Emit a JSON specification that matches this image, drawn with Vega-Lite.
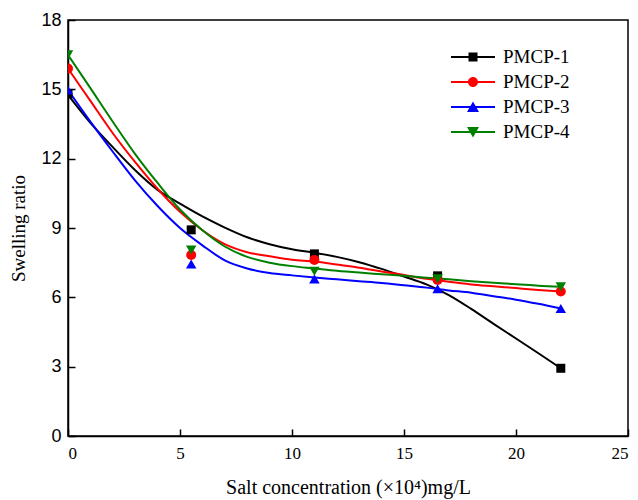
{
  "$schema": "https://vega.github.io/schema/vega-lite/v6.json",
  "autosize": "none",
  "width": 560,
  "height": 416,
  "padding": {"left": 68, "top": 20, "right": 10, "bottom": 64},
  "background": "white",
  "config": {
    "view": {"stroke": "black", "strokeWidth": 1.5},
    "axis": {"grid": false, "domainColor": "black", "domainWidth": 1.5, "tickColor": "black", "tickWidth": 1.5, "tickSize": -7, "labelColor": "black", "titleColor": "black", "titleFont": "Liberation Serif", "titleFontWeight": "normal"},
    "legend": {"orient": "none", "legendX": 395, "legendY": 27, "padding": 0, "symbolSize": 400, "symbolOpacity": 1, "symbolStrokeWidth": 0, "labelFont": "Liberation Serif", "labelFontSize": 19, "labelColor": "black", "labelOffset": 20, "rowPadding": 5}
  },
  "datasets": {
    "curves": [
      {"series": "PMCP-1", "x": 0, "y": 14.76}, {"series": "PMCP-1", "x": 1, "y": 13.55}, {"series": "PMCP-1", "x": 2, "y": 12.5}, {"series": "PMCP-1", "x": 3, "y": 11.5}, {"series": "PMCP-1", "x": 4, "y": 10.65}, {"series": "PMCP-1", "x": 5, "y": 10.05}, {"series": "PMCP-1", "x": 6, "y": 9.5}, {"series": "PMCP-1", "x": 7, "y": 9.02}, {"series": "PMCP-1", "x": 8, "y": 8.6}, {"series": "PMCP-1", "x": 9, "y": 8.3}, {"series": "PMCP-1", "x": 10, "y": 8.08}, {"series": "PMCP-1", "x": 11, "y": 7.93}, {"series": "PMCP-1", "x": 12, "y": 7.75}, {"series": "PMCP-1", "x": 13, "y": 7.52}, {"series": "PMCP-1", "x": 14, "y": 7.23}, {"series": "PMCP-1", "x": 15, "y": 6.9}, {"series": "PMCP-1", "x": 16, "y": 6.56}, {"series": "PMCP-1", "x": 17, "y": 6.1}, {"series": "PMCP-1", "x": 18, "y": 5.5}, {"series": "PMCP-1", "x": 19, "y": 4.85}, {"series": "PMCP-1", "x": 20, "y": 4.22}, {"series": "PMCP-1", "x": 21, "y": 3.58}, {"series": "PMCP-1", "x": 22, "y": 2.93},
      {"series": "PMCP-2", "x": 0, "y": 15.9}, {"series": "PMCP-2", "x": 1, "y": 14.5}, {"series": "PMCP-2", "x": 2, "y": 13.1}, {"series": "PMCP-2", "x": 3, "y": 11.85}, {"series": "PMCP-2", "x": 4, "y": 10.7}, {"series": "PMCP-2", "x": 5, "y": 9.7}, {"series": "PMCP-2", "x": 6, "y": 8.9}, {"series": "PMCP-2", "x": 7, "y": 8.3}, {"series": "PMCP-2", "x": 8, "y": 7.95}, {"series": "PMCP-2", "x": 9, "y": 7.78}, {"series": "PMCP-2", "x": 10, "y": 7.63}, {"series": "PMCP-2", "x": 11, "y": 7.55}, {"series": "PMCP-2", "x": 12, "y": 7.42}, {"series": "PMCP-2", "x": 13, "y": 7.28}, {"series": "PMCP-2", "x": 14, "y": 7.12}, {"series": "PMCP-2", "x": 15, "y": 6.97}, {"series": "PMCP-2", "x": 16, "y": 6.8}, {"series": "PMCP-2", "x": 17, "y": 6.67}, {"series": "PMCP-2", "x": 18, "y": 6.56}, {"series": "PMCP-2", "x": 19, "y": 6.48}, {"series": "PMCP-2", "x": 20, "y": 6.4}, {"series": "PMCP-2", "x": 21, "y": 6.32}, {"series": "PMCP-2", "x": 22, "y": 6.25},
      {"series": "PMCP-3", "x": 0, "y": 14.97}, {"series": "PMCP-3", "x": 1, "y": 13.6}, {"series": "PMCP-3", "x": 2, "y": 12.3}, {"series": "PMCP-3", "x": 3, "y": 11.05}, {"series": "PMCP-3", "x": 4, "y": 9.95}, {"series": "PMCP-3", "x": 5, "y": 9.0}, {"series": "PMCP-3", "x": 6, "y": 8.25}, {"series": "PMCP-3", "x": 7, "y": 7.6}, {"series": "PMCP-3", "x": 8, "y": 7.25}, {"series": "PMCP-3", "x": 9, "y": 7.05}, {"series": "PMCP-3", "x": 10, "y": 6.95}, {"series": "PMCP-3", "x": 11, "y": 6.86}, {"series": "PMCP-3", "x": 12, "y": 6.78}, {"series": "PMCP-3", "x": 13, "y": 6.7}, {"series": "PMCP-3", "x": 14, "y": 6.62}, {"series": "PMCP-3", "x": 15, "y": 6.52}, {"series": "PMCP-3", "x": 16, "y": 6.42}, {"series": "PMCP-3", "x": 17, "y": 6.3}, {"series": "PMCP-3", "x": 18, "y": 6.2}, {"series": "PMCP-3", "x": 19, "y": 6.05}, {"series": "PMCP-3", "x": 20, "y": 5.9}, {"series": "PMCP-3", "x": 21, "y": 5.72}, {"series": "PMCP-3", "x": 22, "y": 5.52},
      {"series": "PMCP-4", "x": 0, "y": 16.49}, {"series": "PMCP-4", "x": 1, "y": 15.05}, {"series": "PMCP-4", "x": 2, "y": 13.6}, {"series": "PMCP-4", "x": 3, "y": 12.2}, {"series": "PMCP-4", "x": 4, "y": 10.95}, {"series": "PMCP-4", "x": 5, "y": 9.8}, {"series": "PMCP-4", "x": 6, "y": 8.9}, {"series": "PMCP-4", "x": 7, "y": 8.2}, {"series": "PMCP-4", "x": 8, "y": 7.75}, {"series": "PMCP-4", "x": 9, "y": 7.5}, {"series": "PMCP-4", "x": 10, "y": 7.35}, {"series": "PMCP-4", "x": 11, "y": 7.25}, {"series": "PMCP-4", "x": 12, "y": 7.15}, {"series": "PMCP-4", "x": 13, "y": 7.07}, {"series": "PMCP-4", "x": 14, "y": 7.0}, {"series": "PMCP-4", "x": 15, "y": 6.93}, {"series": "PMCP-4", "x": 16, "y": 6.85}, {"series": "PMCP-4", "x": 17, "y": 6.78}, {"series": "PMCP-4", "x": 18, "y": 6.7}, {"series": "PMCP-4", "x": 19, "y": 6.63}, {"series": "PMCP-4", "x": 20, "y": 6.57}, {"series": "PMCP-4", "x": 21, "y": 6.5}, {"series": "PMCP-4", "x": 22, "y": 6.46}
    ],
    "points": [
      {"series": "PMCP-1", "x": 0, "y": 14.8}, {"series": "PMCP-1", "x": 5.5, "y": 8.92}, {"series": "PMCP-1", "x": 11, "y": 7.88}, {"series": "PMCP-1", "x": 16.5, "y": 6.93}, {"series": "PMCP-1", "x": 22, "y": 2.93},
      {"series": "PMCP-2", "x": 0, "y": 15.9}, {"series": "PMCP-2", "x": 5.5, "y": 7.83}, {"series": "PMCP-2", "x": 11, "y": 7.62}, {"series": "PMCP-2", "x": 16.5, "y": 6.75}, {"series": "PMCP-2", "x": 22, "y": 6.25},
      {"series": "PMCP-3", "x": 0, "y": 14.97}, {"series": "PMCP-3", "x": 5.5, "y": 7.44}, {"series": "PMCP-3", "x": 11, "y": 6.8}, {"series": "PMCP-3", "x": 16.5, "y": 6.37}, {"series": "PMCP-3", "x": 22, "y": 5.52},
      {"series": "PMCP-4", "x": 0, "y": 16.49}, {"series": "PMCP-4", "x": 5.5, "y": 8.05}, {"series": "PMCP-4", "x": 11, "y": 7.13}, {"series": "PMCP-4", "x": 16.5, "y": 6.8}, {"series": "PMCP-4", "x": 22, "y": 6.46}
    ]
  },
  "encoding": {
    "x": {"field": "x", "type": "quantitative", "scale": {"domain": [0, 25], "nice": false},
      "axis": {"values": [0, 5, 10, 15, 20, 25], "labelFont": "Liberation Serif", "labelFontSize": 17, "labelPadding": 16, "title": "Salt concentration (×10⁴)mg/L", "titleFontSize": 20, "titlePadding": 16}},
    "y": {"field": "y", "type": "quantitative", "scale": {"domain": [0, 18], "nice": false},
      "axis": {"values": [0, 3, 6, 9, 12, 15, 18], "labelFont": "Liberation Sans", "labelFontSize": 18, "labelPadding": 14, "title": "Swelling ratio", "titleFontSize": 19, "titlePadding": 12}},
    "color": {"field": "series", "type": "nominal", "title": null, "scale": {"domain": ["PMCP-1", "PMCP-2", "PMCP-3", "PMCP-4"], "range": ["#000000", "#ff0000", "#0000ff", "#008000"]}}
  },
  "layer": [
    {
      "data": {"name": "points"},
      "mark": {"type": "point", "filled": true, "opacity": 0, "clip": true},
      "encoding": {
        "shape": {"field": "series", "type": "nominal", "title": null,
          "scale": {"domain": ["PMCP-1", "PMCP-2", "PMCP-3", "PMCP-4"], "range": ["M-2.2,-0.1H2.2V0.1H-2.2ZM-0.45,-0.45H0.45V0.45H-0.45Z", "M-2.2,-0.1H2.2V0.1H-2.2ZM-0.5,0A0.5,0.5 0 1,1 0.5,0A0.5,0.5 0 1,1 -0.5,0Z", "M-2.2,-0.1H2.2V0.1H-2.2ZM0,-0.55L0.6,0.5H-0.6Z", "M-2.2,-0.1H2.2V0.1H-2.2ZM0,0.55L-0.6,-0.5H0.6Z"]}}
      }
    },
    {
      "data": {"name": "curves"},
      "mark": {"type": "line", "interpolate": "monotone", "strokeWidth": 2, "clip": true}
    },
    {
      "data": {"name": "points"},
      "transform": [{"filter": "datum.series === 'PMCP-1'"}],
      "mark": {"type": "point", "shape": "square", "filled": true, "opacity": 1, "size": 81, "clip": true}
    },
    {
      "data": {"name": "points"},
      "transform": [{"filter": "datum.series === 'PMCP-2'"}],
      "mark": {"type": "point", "shape": "circle", "filled": true, "opacity": 1, "size": 100, "clip": true}
    },
    {
      "data": {"name": "points"},
      "transform": [{"filter": "datum.series === 'PMCP-3'"}],
      "mark": {"type": "point", "shape": "triangle-up", "filled": true, "opacity": 1, "size": 110, "clip": true}
    },
    {
      "data": {"name": "points"},
      "transform": [{"filter": "datum.series === 'PMCP-4'"}],
      "mark": {"type": "point", "shape": "triangle-down", "filled": true, "opacity": 1, "size": 110, "clip": true}
    }
  ]
}
